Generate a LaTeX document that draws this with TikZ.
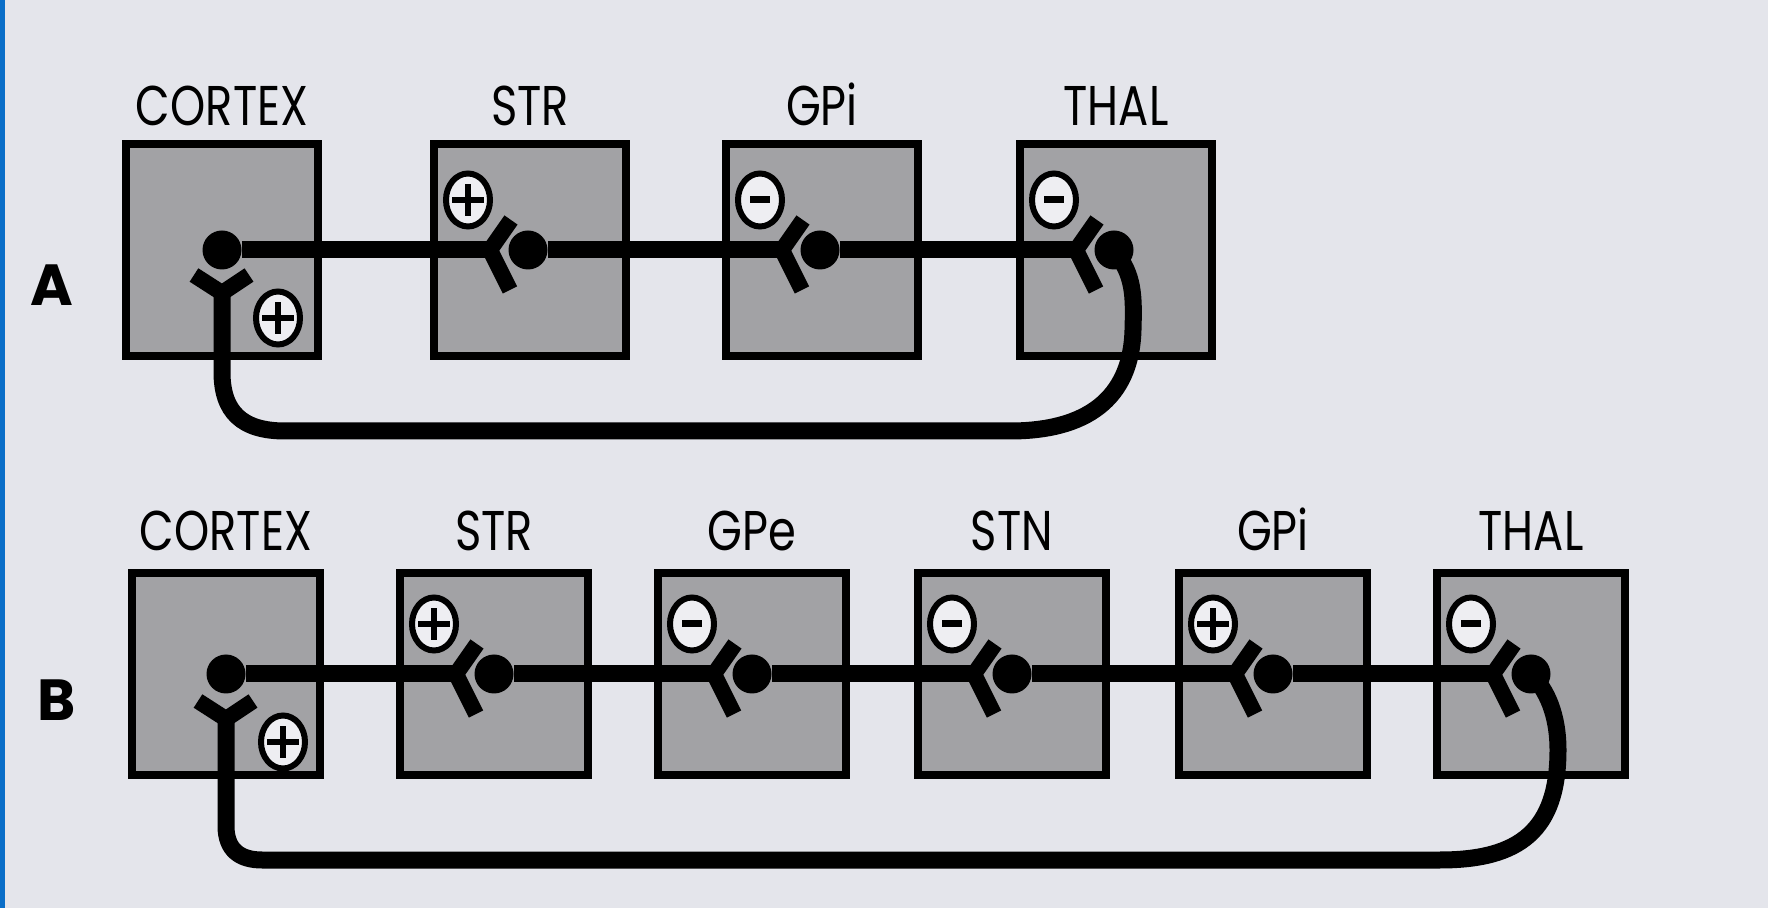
\documentclass[tikz,border=0pt]{standalone}
\usepackage{fontspec}
\newfontfamily\namefont[FakeStretch=0.80]{Poppins}
\newfontfamily\tagfont{Poppins}
\definecolor{pagegray}{RGB}{228,229,235}
\definecolor{boxgray}{RGB}{162,162,165}
\definecolor{signwhite}{RGB}{238,238,242}
\definecolor{edgeblue}{RGB}{10,110,200}
\usetikzlibrary{positioning,shapes.geometric,calc}

\begin{document}
\begin{tikzpicture}[x=0.5pt, y=-0.5pt,
  region/.style={rectangle, draw, line width=4pt, fill=boxgray,
                 minimum width=96pt, minimum height=106pt, inner sep=0pt},
  regionB/.style={region, minimum width=94pt, minimum height=101pt},
  areaname/.style={font=\namefont\fontsize{28pt}{28pt}\selectfont, inner sep=0pt},
  rowtag/.style={font=\tagfont\bfseries\fontsize{29pt}{29pt}\selectfont, inner sep=0pt},
  signring/.style={ellipse, draw, line width=3pt, fill=signwhite,
                   minimum width=22pt, minimum height=26.5pt, inner sep=0pt},
  excit/.style={signring, path picture={
      \draw[line width=3pt]
        ([xshift=-8pt]path picture bounding box.center) -- ([xshift=8pt]path picture bounding box.center)
        ([yshift=-8pt]path picture bounding box.center) -- ([yshift=8pt]path picture bounding box.center);}},
  inhib/.style={signring, path picture={
      \draw[line width=3.5pt]
        ([xshift=-5pt]path picture bounding box.center) -- ([xshift=5pt]path picture bounding box.center);}},
  bouton/.style={circle, fill, inner sep=0pt, minimum size=19.5pt},
  axon/.style={line width=8.5pt},
  arm/.style={line width=8pt}
]
% Page
\fill[pagegray] (0,0) rectangle (1768,908);
\fill[edgeblue] (0,0) rectangle (5,908);
\useasboundingbox (0,0) rectangle (1768,908);

% Row A boxes
\node[region] (cortexA) at (222,250)  {};
\node[region] (strA)    at (530,250)  {};
\node[region] (gpiA)    at (822,250)  {};
\node[region] (thalA)   at (1116,250) {};
\node[areaname, above=7pt of cortexA] {CORTEX};
\node[areaname, above=7pt of strA]    {STR};
\node[areaname, above=7pt of gpiA]    {GPi};
\node[areaname, above=7pt of thalA]   {THAL};
\node[rowtag] (tagA) at (52,285) {A};

% Row B boxes
\node[regionB] (cortexB) at (226,674)  {};
\node[regionB] (strB)    at (494,674)  {};
\node[regionB] (gpeB)    at (752,674)  {};
\node[regionB] (stnB)    at (1012,674) {};
\node[regionB] (gpiB)    at (1273,674) {};
\node[regionB] (thalB)   at (1531,674) {};
\node[areaname, above=9pt of cortexB] {CORTEX};
\node[areaname, above=9pt of strB]    {STR};
\node[areaname, above=9pt of gpeB]    {GPe};
\node[areaname, above=9pt of stnB]    {STN};
\node[areaname, above=9pt of gpiB]    {GPi};
\node[areaname, above=9pt of thalB]   {THAL};
\node[rowtag] (tagB) at (57,700) {B};

% Cortex: bouton, receptor and sign
\node[bouton] (cortexA-b) at (cortexA) {};
\node[bouton] (cortexB-b) at (cortexB) {};
\coordinate (cortexA-r) at ($(cortexA)+(0,43)$);
\coordinate (cortexB-r) at ($(cortexB)+(0,45)$);
\node[excit] at ($(cortexA.west)+(156,68)$) {};
\node[excit] at ($(cortexB.west)+(155,68)$) {};

% Synapses along the chains
\foreach \src/\dst/\kind in {cortexA/strA/excit, strA/gpiA/inhib, gpiA/thalA/inhib,
    cortexB/strB/excit, strB/gpeB/inhib, gpeB/stnB/inhib, stnB/gpiB/excit, gpiB/thalB/inhib}{
  \coordinate (\dst-r) at ($(\dst.west)+(60,0)$);
  \node[bouton] (\dst-b) at ($(\dst.west)+(98,0)$) {};
  \node[\kind] at ($(\dst.west)+(38,-50)$) {};
  \draw[axon] (\src-b) -- (\dst-r);
  \draw[arm] ($(\dst-r)+(21,-30)$) -- (\dst-r) -- ++(20,40);
}

% Return loops from thalamus to cortex
\draw[axon] (thalA-b.center) .. controls (1134,275) and (1134,295) .. (1133,330)
  .. controls (1131,400) and (1085,431) .. (1010,431) -- (285,431)
  .. controls (242,431) and (222,412) .. (222,372) -- (cortexA-r);
\draw[axon] (thalB-b.center) .. controls (1547,690) and (1558,715) .. (1558,750)
  .. controls (1558,830) and (1520,860) .. (1440,860) -- (262,860)
  .. controls (240,860) and (226,850) .. (226,826) -- (cortexB-r);
\draw[arm] ($(cortexA-r)+(-28,-18)$) -- (cortexA-r) -- ++(27,-18);
\draw[arm] ($(cortexB-r)+(-28,-18)$) -- (cortexB-r) -- ++(27,-18);
\end{tikzpicture}
\end{document}
